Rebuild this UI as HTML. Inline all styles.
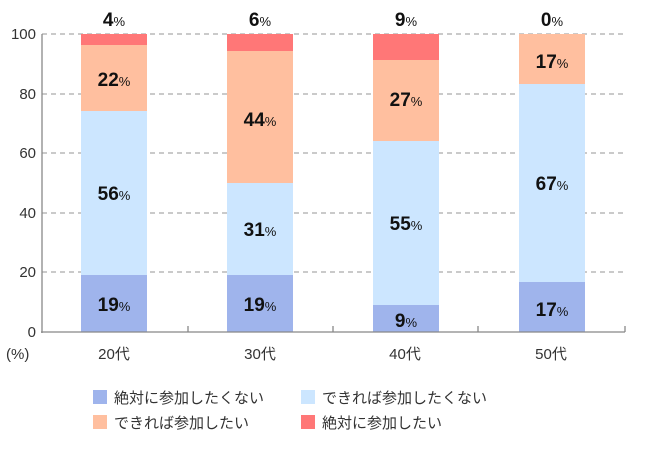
<!DOCTYPE html>
<html><head><meta charset="utf-8"><style>
body{margin:0;background:#fff}
text{font-family:"Liberation Sans","Noto Sans CJK JP",sans-serif}
.v{font-weight:bold;font-size:19px;fill:#111}
.p{font-size:13px;font-weight:normal}
.ax{font-size:15px;fill:#333}
.lg{font-size:15px;fill:#333}
</style></head><body>
<svg width="650" height="451" xmlns="http://www.w3.org/2000/svg">
<g stroke="#aaa" stroke-dasharray="5,4" stroke-width="1.3">
<line x1="42" y1="34" x2="625" y2="34"/>
<line x1="42" y1="94" x2="625" y2="94"/>
<line x1="42" y1="153" x2="625" y2="153"/>
<line x1="42" y1="213" x2="625" y2="213"/>
<line x1="42" y1="272" x2="625" y2="272"/>
</g>
<rect x="81" y="275" width="66" height="57" fill="#9fb4ec"/>
<rect x="81" y="111" width="66" height="164" fill="#cce6ff"/>
<rect x="81" y="45" width="66" height="66" fill="#ffbf9f"/>
<rect x="81" y="34" width="66" height="11" fill="#ff7777"/>
<rect x="227" y="275" width="66" height="57" fill="#9fb4ec"/>
<rect x="227" y="183" width="66" height="92" fill="#cce6ff"/>
<rect x="227" y="51" width="66" height="132" fill="#ffbf9f"/>
<rect x="227" y="34" width="66" height="17" fill="#ff7777"/>
<rect x="373" y="305" width="66" height="27" fill="#9fb4ec"/>
<rect x="373" y="141" width="66" height="164" fill="#cce6ff"/>
<rect x="373" y="60" width="66" height="81" fill="#ffbf9f"/>
<rect x="373" y="34" width="66" height="26" fill="#ff7777"/>
<rect x="519" y="282" width="66" height="50" fill="#9fb4ec"/>
<rect x="519" y="84" width="66" height="198" fill="#cce6ff"/>
<rect x="519" y="34" width="66" height="50" fill="#ffbf9f"/>
<g stroke="#888" stroke-width="1.3" fill="none">
<line x1="42" y1="34" x2="42" y2="333"/>
<line x1="41" y1="332" x2="625" y2="332"/>
<line x1="188" y1="326" x2="188" y2="332"/>
<line x1="333" y1="326" x2="333" y2="332"/>
<line x1="478" y1="326" x2="478" y2="332"/>
<line x1="625" y1="326" x2="625" y2="332"/>
</g>
<g class="ax" text-anchor="end">
<text x="36" y="39">100</text><text x="36" y="99">80</text><text x="36" y="158">60</text>
<text x="36" y="218">40</text><text x="36" y="277">20</text><text x="36" y="337">0</text>
</g>
<text class="ax" x="6" y="359">(%)</text>
<g class="ax" text-anchor="middle">
<text x="114" y="359">20代</text><text x="260" y="359">30代</text>
<text x="405" y="359">40代</text><text x="551" y="359">50代</text>
</g>
<g class="v" text-anchor="middle">
<text x="114" y="26">4<tspan class="p">%</tspan></text>
<text x="114" y="86">22<tspan class="p">%</tspan></text>
<text x="114" y="200">56<tspan class="p">%</tspan></text>
<text x="114" y="311">19<tspan class="p">%</tspan></text>
<text x="260" y="26">6<tspan class="p">%</tspan></text>
<text x="260" y="126">44<tspan class="p">%</tspan></text>
<text x="260" y="236">31<tspan class="p">%</tspan></text>
<text x="260" y="311">19<tspan class="p">%</tspan></text>
<text x="406" y="26">9<tspan class="p">%</tspan></text>
<text x="406" y="106">27<tspan class="p">%</tspan></text>
<text x="406" y="230">55<tspan class="p">%</tspan></text>
<text x="406" y="327">9<tspan class="p">%</tspan></text>
<text x="552" y="26">0<tspan class="p">%</tspan></text>
<text x="552" y="68">17<tspan class="p">%</tspan></text>
<text x="552" y="190">67<tspan class="p">%</tspan></text>
<text x="552" y="316">17<tspan class="p">%</tspan></text>
</g>
<rect x="93" y="390" width="14" height="14" fill="#9fb4ec"/>
<text class="lg" x="114" y="403">絶対に参加したくない</text>
<rect x="301" y="390" width="14" height="14" fill="#cce6ff"/>
<text class="lg" x="322" y="403">できれば参加したくない</text>
<rect x="93" y="415" width="14" height="14" fill="#ffbf9f"/>
<text class="lg" x="114" y="428">できれば参加したい</text>
<rect x="301" y="415" width="14" height="14" fill="#ff7777"/>
<text class="lg" x="322" y="428">絶対に参加したい</text>
</svg>
</body></html>
